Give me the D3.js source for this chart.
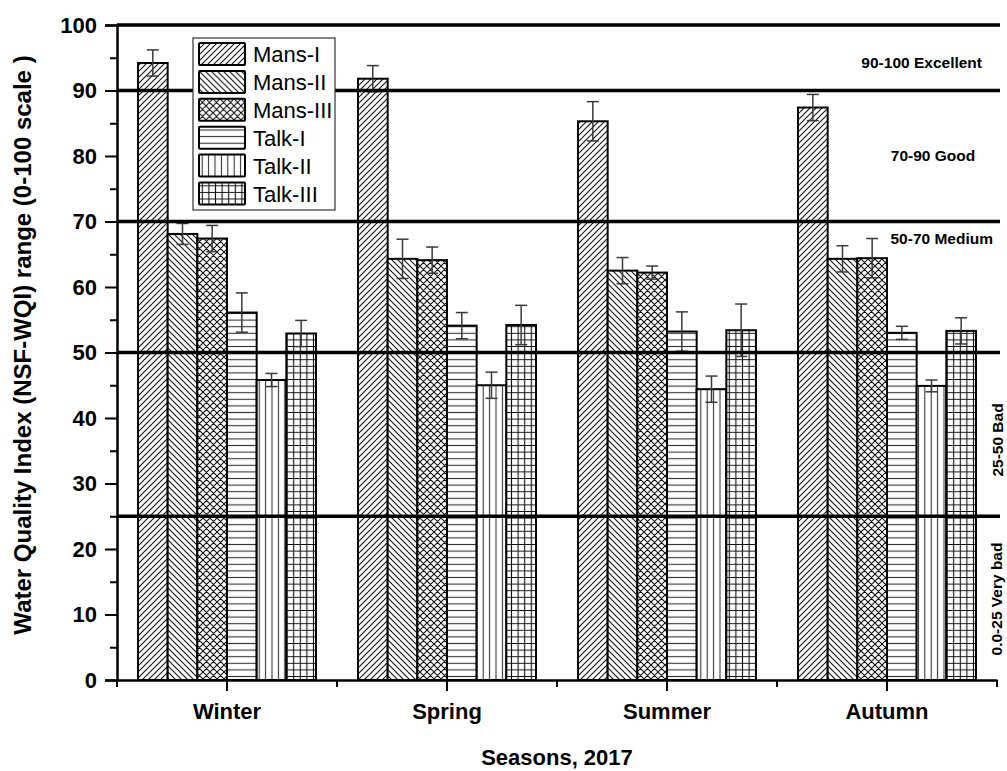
<!DOCTYPE html>
<html lang="en">
<head>
<meta charset="UTF-8">
<title>NSF-WQI by season</title>
<script src="https://d3js.org/d3.v7.min.js"></script>
<style>
  body { margin: 0; background: #fff; }
  text { font-family: "Liberation Sans", Arial, sans-serif; }
</style>
</head>
<body>
<div id="chart"></div>
<script>
// data
var seasons = ["Winter", "Spring", "Summer", "Autumn"];
var sites = ["Mans-I", "Mans-II", "Mans-III", "Talk-I", "Talk-II", "Talk-III"];

var mansI   = [94.2, 91.8, 85.3, 87.4];
var mansII  = [68.1, 64.3, 62.5, 64.3];
var mansIII = [67.4, 64.1, 62.2, 64.4];
var talkI   = [56.1, 54.1, 53.2, 53.0];
var talkII  = [45.8, 45.0, 44.4, 44.9];
var talkIII = [52.9, 54.2, 53.4, 53.3];

var errMansI   = [2.0, 2.0, 3.0, 2.0];
var errMansII  = [1.6, 3.0, 2.0, 2.0];
var errMansIII = [2.0, 2.0, 1.0, 3.0];
var errTalkI   = [3.0, 2.0, 3.0, 1.0];
var errTalkII  = [1.0, 2.0, 2.0, 0.9];
var errTalkIII = [2.0, 3.0, 4.0, 2.0];

var yTicks = [0, 10, 20, 30, 40, 50, 60, 70, 80, 90, 100];
var classLines = [100, 90, 70, 50, 25];

var values = [mansI, mansII, mansIII, talkI, talkII, talkIII];
var errors = [errMansI, errMansII, errMansIII, errTalkI, errTalkII, errTalkIII];

var W = 1007, H = 771;
var plotL = 117, plotR = 997, plotT = 25, plotB = 680;

var svg = d3.select("#chart").append("svg")
    .attr("width", W).attr("height", H);

// hatch patterns, one per site
var defs = svg.append("defs");
function pattern(id, size, d, color) {
    var p = defs.append("pattern")
        .attr("id", id)
        .attr("patternUnits", "userSpaceOnUse")
        .attr("width", size).attr("height", size);
    p.append("rect").attr("width", size).attr("height", size).attr("fill", "#fff");
    p.append("path").attr("d", d)
        .attr("stroke", color).attr("stroke-width", 1.1).attr("fill", "none");
}
pattern("p0", 6, "M0,6L6,0M-1,1L1,-1M5,7L7,5", "#111");
pattern("p1", 6, "M0,0L6,6M-1,5L1,7M5,-1L7,1", "#111");
pattern("p2", 7, "M0,0L7,7M-1,6L1,8M6,-1L8,1M0,7L7,0M-1,1L1,-1M6,8L8,6", "#111");
pattern("p3", 6.6, "M0,3.3H6.6", "#333");
pattern("p4", 6.4, "M3.2,0V6.4", "#333");
pattern("p5", 6.6, "M0,3.3H6.6M3.3,0V6.6", "#111");

var x0 = d3.scaleBand().domain(seasons).range([plotL, plotR]);
var x1 = d3.scaleBand().domain(sites).range([21, x0.bandwidth() - 21]);
var y = d3.scaleLinear().domain([0, 100]).range([plotB, plotT]);

// bars
var rows = [];
seasons.forEach(function(s, i) {
    sites.forEach(function(site, j) {
        rows.push({ season: s, site: site, k: j, v: values[j][i], e: errors[j][i] });
    });
});

svg.append("g").selectAll("rect")
    .data(rows).enter().append("rect")
    .attr("x", d => x0(d.season) + x1(d.site))
    .attr("y", d => y(d.v))
    .attr("width", x1.bandwidth())
    .attr("height", d => y(0) - y(d.v))
    .attr("fill", d => "url(#p" + d.k + ")")
    .attr("stroke", "#000")
    .attr("stroke-width", 2);

// error bars
var eb = svg.append("g").attr("stroke", "#3a3a3a").attr("stroke-width", 1.5);
rows.forEach(function(d) {
    var cx = x0(d.season) + x1(d.site) + x1.bandwidth() / 2;
    eb.append("line").attr("x1", cx).attr("x2", cx)
        .attr("y1", y(d.v + d.e)).attr("y2", y(d.v - d.e));
    eb.append("line").attr("x1", cx - 6).attr("x2", cx + 6)
        .attr("y1", y(d.v + d.e)).attr("y2", y(d.v + d.e));
    eb.append("line").attr("x1", cx - 6).attr("x2", cx + 6)
        .attr("y1", y(d.v - d.e)).attr("y2", y(d.v - d.e));
});

// class boundary lines
svg.append("g").selectAll("line")
    .data(classLines).enter().append("line")
    .attr("x1", plotL).attr("x2", plotR + 3)
    .attr("y1", d => y(d)).attr("y2", d => y(d))
    .attr("stroke", "#000").attr("stroke-width", 3.5);

// y axis
var yAxis = svg.append("g")
    .attr("transform", "translate(" + plotL + ",0)")
    .call(d3.axisLeft(y).tickValues(yTicks).tickSize(12).tickPadding(8));
yAxis.select(".domain").attr("stroke-width", 2.5);
yAxis.selectAll(".tick line").attr("stroke-width", 2);
yAxis.selectAll("text")
    .attr("font-size", 22).attr("font-weight", "bold")
    .attr("font-family", "Liberation Sans, Arial, sans-serif");
svg.append("g")
    .attr("transform", "translate(" + plotL + ",0)")
    .call(d3.axisLeft(y).tickValues(d3.range(5, 100, 10)).tickSize(7).tickFormat(""))
    .call(g => g.select(".domain").remove())
    .selectAll("line").attr("stroke-width", 2);

// x axis
var xAxis = svg.append("g")
    .attr("transform", "translate(0," + plotB + ")")
    .call(d3.axisBottom(x0).tickSize(11).tickPadding(12).tickSizeOuter(0));
xAxis.select(".domain").attr("stroke-width", 2.5);
xAxis.selectAll(".tick line").attr("stroke-width", 2);
xAxis.selectAll("text")
    .attr("font-size", 22).attr("font-weight", "bold")
    .attr("font-family", "Liberation Sans, Arial, sans-serif");
var bounds = seasons.map(s => x0(s)).concat([plotR]);
svg.append("g").selectAll("line")
    .data(bounds).enter().append("line")
    .attr("x1", d => d).attr("x2", d => d)
    .attr("y1", plotB).attr("y2", plotB + 7)
    .attr("stroke", "#000").attr("stroke-width", 2);

// axis titles
svg.append("text")
    .attr("transform", "translate(31,345) rotate(-90)")
    .attr("text-anchor", "middle")
    .attr("font-size", 24).attr("font-weight", "bold")
    .text("Water Quality Index (NSF-WQI) range (0-100 scale )");
svg.append("text")
    .attr("x", 557).attr("y", 765)
    .attr("text-anchor", "middle")
    .attr("font-size", 22).attr("font-weight", "bold")
    .text("Seasons, 2017");

// class labels
var lab = svg.append("g").attr("font-size", 15.5).attr("font-weight", "bold");
lab.append("text").attr("x", 982).attr("y", 68).attr("text-anchor", "end").text("90-100 Excellent");
lab.append("text").attr("x", 933).attr("y", 161).attr("text-anchor", "middle").text("70-90 Good");
lab.append("text").attr("x", 993).attr("y", 244).attr("text-anchor", "end").text("50-70 Medium");
lab.append("text").attr("transform", "translate(1003,440) rotate(-90)")
    .attr("text-anchor", "middle").text("25-50 Bad");
lab.append("text").attr("transform", "translate(1002,599) rotate(-90)")
    .attr("text-anchor", "middle").text("0.0-25 Very bad");

// legend
var leg = svg.append("g").attr("transform", "translate(193,38)");
leg.append("rect").attr("width", 142).attr("height", 172)
    .attr("fill", "#fff").attr("stroke", "#333").attr("stroke-width", 1.2);
var item = leg.selectAll(".item").data(sites).enter().append("g")
    .attr("transform", (d, i) => "translate(6," + (5 + i * 27.9) + ")");
item.append("rect").attr("width", 46).attr("height", 22)
    .attr("fill", (d, i) => "url(#p" + i + ")")
    .attr("stroke", "#000").attr("stroke-width", 2).attr("rx", 1);
item.append("text").attr("x", 54).attr("y", 19)
    .attr("font-size", 22).text(d => d);
</script>
</body>
</html>
